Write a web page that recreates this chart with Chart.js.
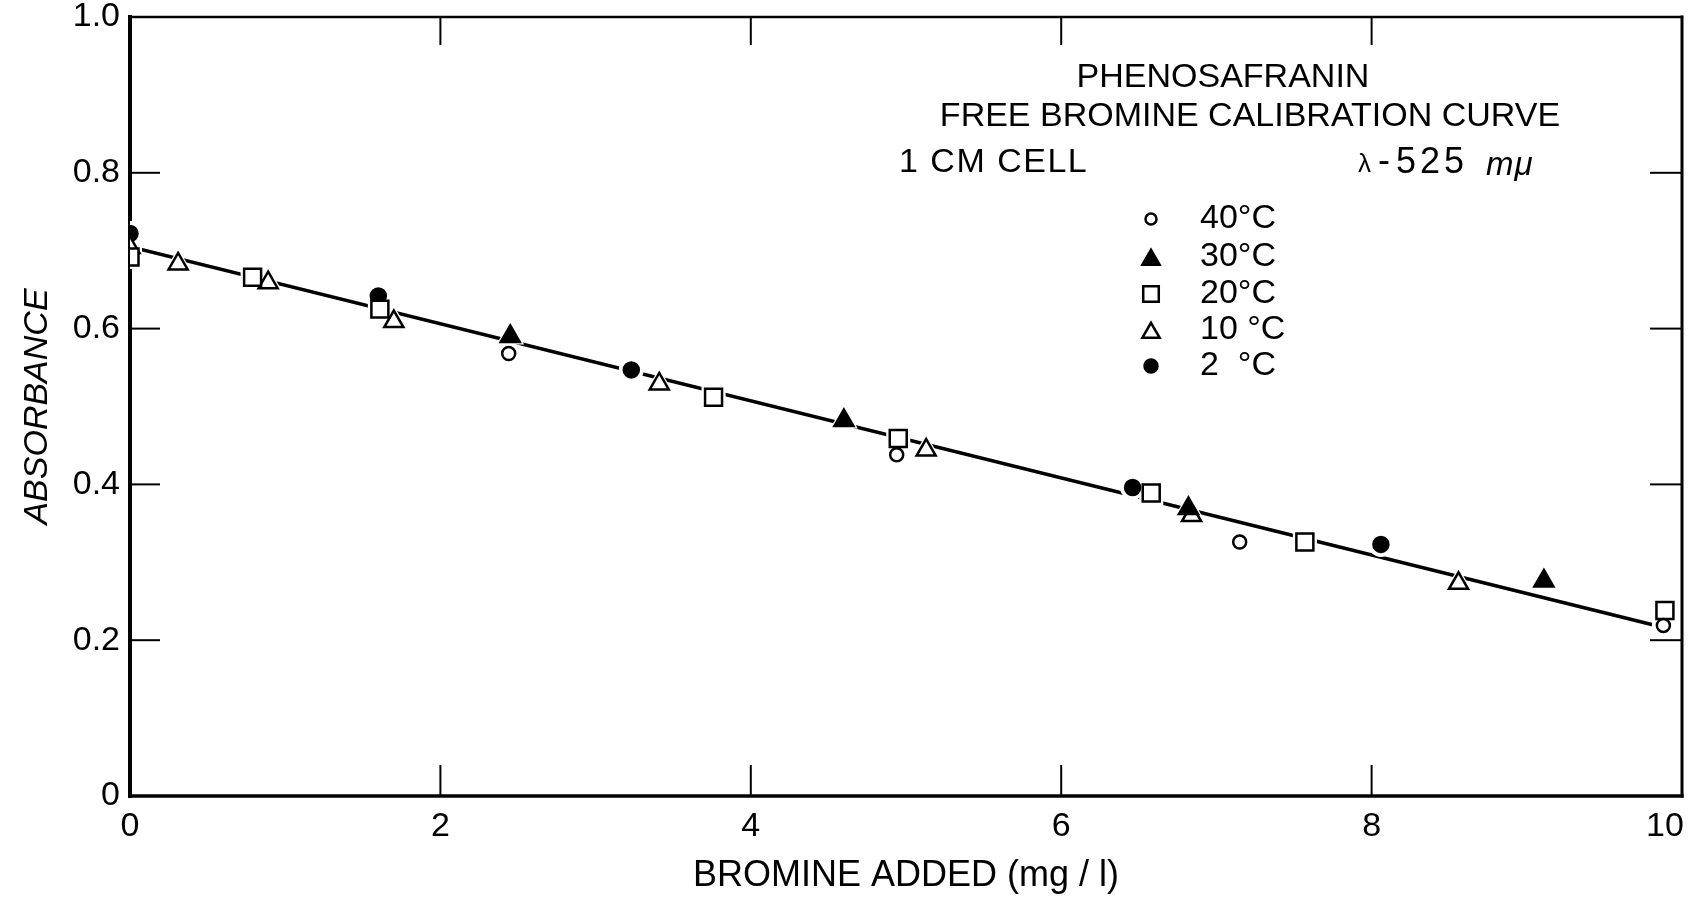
<!DOCTYPE html>
<html>
<head>
<meta charset="utf-8">
<title>Phenosafranin free bromine calibration curve</title>
<script src="https://cdn.jsdelivr.net/npm/chart.js@4.4.1/dist/chart.umd.min.js"></script>
<style>
  html, body { margin: 0; padding: 0; background: #fff; }
  canvas { display: block; }
</style>
</head>
<body>
<canvas id="chart" width="1699" height="898"></canvas>
<script>
// bromine added (mg/l) vs absorbance for each temperature
const x40 = [2.44, 4.94, 7.15, 9.88];
const y40 = [0.568, 0.438, 0.326, 0.219];
const x30 = [2.45, 4.60, 6.82, 9.11];
const y30 = [0.590, 0.482, 0.369, 0.276];
const x20 = [0, 0.79, 1.61, 3.76, 4.95, 6.58, 7.57, 9.89];
const y20 = [0.692, 0.666, 0.625, 0.512, 0.459, 0.389, 0.326, 0.238];
const x10 = [0, 0.31, 0.89, 1.70, 3.41, 5.13, 6.84, 8.56];
const y10 = [0.704, 0.683, 0.659, 0.609, 0.529, 0.444, 0.360, 0.273];
const x2 = [0, 1.60, 3.23, 6.46, 8.06];
const y2 = [0.722, 0.642, 0.547, 0.396, 0.323];

// calibration line
const fitX = [0, 9.85];
const fitY = [0.705, 0.218];

const seriesLabels = ["40°C", "30°C", "20°C", "10 °C", "2  °C"];

const xTickValues = [0, 2, 4, 6, 8, 10];
const xTickLabels = ["0", "2", "4", "6", "8", "10\u2003"];
const yTickValues = [0, 0.2, 0.4, 0.6, 0.8, 1.0];
const yTickLabels = ["0", "0.2", "0.4", "0.6", "0.8", "1.0"];

const FONT = "'Liberation Sans', Arial, sans-serif";
const font = { family: FONT, size: 34 };

const toPoints = (xs, ys) => xs.map((v, i) => ({ x: v, y: ys[i] }));

// marker look per series (same order as seriesLabels)
const markers = [
  { style: "circle", radius: 6.5, fill: "#fff" },
  { style: "triangle", radius: 11, fill: "#000" },
  { style: "rect", radius: 12, fill: "#fff" },
  { style: "triangle", radius: 11, fill: "#fff" },
  { style: "circle", radius: 7.5, fill: "#000" },
];
const seriesData = [
  toPoints(x40, y40),
  toPoints(x30, y30),
  toPoints(x20, y20),
  toPoints(x10, y10),
  toPoints(x2, y2),
];

const datasets = [];
// white halos under the markers break the line like in the drawing
seriesData.forEach((data, i) => {
  datasets.push({
    type: "scatter",
    label: "halo " + seriesLabels[i],
    data: data,
    pointStyle: markers[i].style,
    pointRadius: markers[i].radius + 5,
    pointBackgroundColor: "#fff",
    pointBorderColor: "#fff",
    pointBorderWidth: 0,
    order: 5,
  });
});
seriesData.forEach((data, i) => {
  datasets.push({
    type: "scatter",
    label: seriesLabels[i],
    data: data,
    pointStyle: markers[i].style,
    pointRadius: markers[i].radius,
    pointBackgroundColor: markers[i].fill,
    pointBorderColor: "#000",
    pointBorderWidth: 2.5,
    order: 1,
  });
});
datasets.push({
  type: "line",
  label: "fit",
  data: toPoints(fitX, fitY),
  borderColor: "#000",
  borderWidth: 3.5,
  pointRadius: 0,
  fill: false,
  order: 10,
});

function stroke(ctx, x1, y1, x2, y2, w) {
  ctx.lineWidth = w;
  ctx.beginPath();
  ctx.moveTo(x1, y1);
  ctx.lineTo(x2, y2);
  ctx.stroke();
}

// box round the plot with inward tick marks
const framePlugin = {
  id: "frame",
  beforeDatasetsDraw(chart) {
    const { ctx, chartArea: a, scales } = chart;
    const x = scales.x, y = scales.y;
    ctx.save();
    ctx.strokeStyle = "#000";
    ctx.lineCap = "square";
    stroke(ctx, a.left, a.top, a.left, a.bottom, 4);
    stroke(ctx, a.left, a.bottom, a.right, a.bottom, 3.5);
    stroke(ctx, a.right, a.top, a.right, a.bottom, 3);
    stroke(ctx, a.left, a.top, a.right, a.top, 2.5);
    ctx.lineCap = "butt";
    x.ticks.forEach(t => {
      if (t.value <= x.min || t.value >= x.max) return;
      const px = x.getPixelForValue(t.value);
      stroke(ctx, px, a.bottom, px, a.bottom - 31, 2);
      stroke(ctx, px, a.top, px, a.top + 28, 2);
    });
    y.ticks.forEach(t => {
      if (t.value <= y.min || t.value >= y.max) return;
      const py = y.getPixelForValue(t.value);
      stroke(ctx, a.left, py, a.left + 30, py, 2);
      stroke(ctx, a.right, py, a.right - 32, py, 2);
    });
    ctx.restore();
  },
};

// title block and symbol key inside the plot
const notesPlugin = {
  id: "notes",
  afterDraw(chart) {
    const ctx = chart.ctx;
    ctx.save();
    ctx.fillStyle = "#000";
    ctx.font = "34px " + FONT;
    ctx.textBaseline = "middle";
    ctx.textAlign = "center";
    ctx.fillText("PHENOSAFRANIN", 1223, 78);
    ctx.fillText("FREE BROMINE CALIBRATION CURVE", 1250, 117);
    ctx.textAlign = "left";
    ctx.letterSpacing = "1.5px";
    ctx.fillText("1 CM CELL", 899, 163);
    ctx.letterSpacing = "0px";

    // wavelength note, drawn in pieces to follow the hand lettering
    ctx.font = "26px " + FONT;
    ctx.fillText("\u03bb", 1358, 165);
    ctx.font = "36px " + FONT;
    ctx.fillText("-", 1378, 162);
    ctx.letterSpacing = "4px";
    ctx.fillText("525", 1396, 163);
    ctx.letterSpacing = "1px";
    ctx.font = "italic 33px " + FONT;
    ctx.fillText("m\u03bc", 1486, 166);
    ctx.letterSpacing = "0px";

    const rows = [219, 257, 294, 330, 366];
    ctx.font = "34px " + FONT;
    ctx.textAlign = "left";
    seriesLabels.forEach((lab, i) => {
      const m = markers[i];
      ctx.fillStyle = m.fill;
      ctx.strokeStyle = "#000";
      ctx.lineWidth = 2.5;
      const dy = m.style === "triangle" ? m.radius / 4 : 0;
      Chart.helpers.drawPoint(ctx, { pointStyle: m.style, radius: m.radius - 1, rotation: 0, borderWidth: 2.5 }, 1151, rows[i] + dy);
      ctx.fillStyle = "#000";
      ctx.fillText(lab, 1200, rows[i]);
    });
    ctx.restore();
  },
};

new Chart(document.getElementById("chart"), {
  type: "scatter",
  data: { datasets: datasets },
  options: {
    responsive: false,
    animation: false,
    devicePixelRatio: 1,
    events: [],
    layout: { padding: { top: 16, right: 7, bottom: 0, left: 0 } },
    plugins: {
      legend: { display: false },
      tooltip: { enabled: false },
      title: { display: false },
    },
    scales: {
      x: {
        type: "linear",
        min: 0,
        max: 10,
        afterBuildTicks: s => { s.ticks = xTickValues.map(v => ({ value: v })); },
        afterFit: s => { s.height = 102; s.paddingLeft = 0; s.paddingRight = 0; },
        grid: { display: false, drawTicks: false },
        border: { display: false },
        ticks: {
          font: font,
          color: "#000",
          padding: 10,
          maxRotation: 0,
          autoSkip: false,
          callback: (v, i) => xTickLabels[i],
        },
        title: {
          display: true,
          text: "BROMINE ADDED (mg / l)",
          font: { family: FONT, size: 36 },
          color: "#000",
          padding: { top: 0, bottom: 0 },
        },
      },
      y: {
        type: "linear",
        min: 0,
        max: 1,
        afterBuildTicks: s => { s.ticks = yTickValues.map(v => ({ value: v })); },
        afterFit: s => { s.width = 130; s.paddingTop = 0; s.paddingBottom = 0; },
        grid: { display: false, drawTicks: false },
        border: { display: false },
        ticks: {
          font: font,
          color: "#000",
          padding: 10,
          autoSkip: false,
          callback: (v, i) => yTickLabels[i],
        },
        title: {
          display: true,
          text: "ABSORBANCE",
          font: { family: FONT, size: 34, style: "italic" },
          color: "#000",
          padding: { top: 17, bottom: 0 },
        },
      },
    },
  },
  plugins: [framePlugin, notesPlugin],
});
</script>
</body>
</html>
